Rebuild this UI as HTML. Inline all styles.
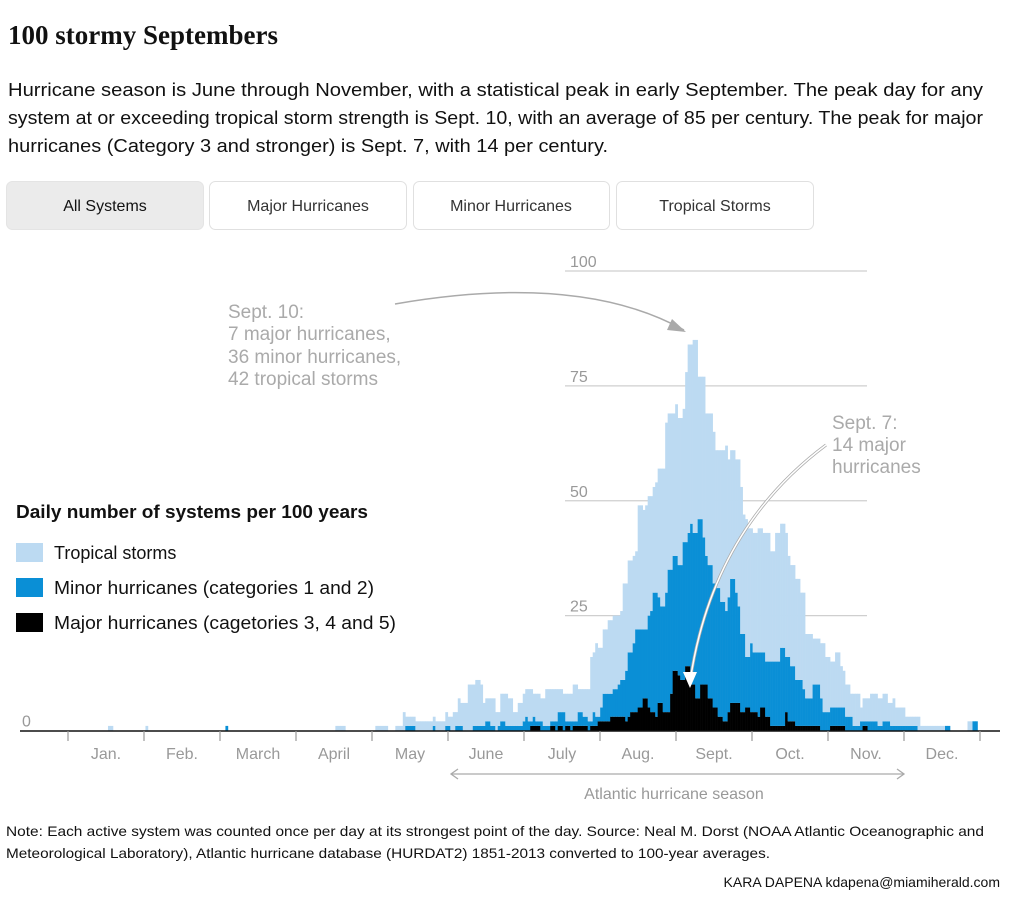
<!DOCTYPE html>
<html><head><meta charset="utf-8">
<style>
html,body{margin:0;padding:0;background:#fff;}
svg{display:block;font-family:"Liberation Sans","DejaVu Sans",sans-serif;}
</style></head>
<body>
<svg id="chart" width="1012" height="900" viewBox="0 0 1012 900" xmlns="http://www.w3.org/2000/svg">
<text x="8" y="44" font-family="Liberation Serif, serif" font-weight="bold" font-size="27" fill="#111">100 stormy Septembers</text>
<g font-size="18.5" fill="#111">
<text x="8" y="96" textLength="975" lengthAdjust="spacingAndGlyphs">Hurricane season is June through November, with a statistical peak in early September. The peak day for any</text>
<text x="8" y="124" textLength="975" lengthAdjust="spacingAndGlyphs">system at or exceeding tropical storm strength is Sept. 10, with an average of 85 per century. The peak for major</text>
<text x="8" y="152" textLength="600" lengthAdjust="spacingAndGlyphs">hurricanes (Category 3 and stronger) is Sept. 7, with 14 per century.</text>
</g>
<g font-size="16" text-anchor="middle">
<g><rect x="6.5" y="181.5" width="197" height="48" rx="6" fill="#ebebeb" stroke="#e4e4e4"/><text x="105" y="211" fill="#111">All Systems</text></g>
<g><rect x="209.5" y="181.5" width="197" height="48" rx="6" fill="#fff" stroke="#e0e0e0"/><text x="308" y="211" fill="#333">Major Hurricanes</text></g>
<g><rect x="413.5" y="181.5" width="196" height="48" rx="6" fill="#fff" stroke="#e0e0e0"/><text x="511" y="211" fill="#333">Minor Hurricanes</text></g>
<g><rect x="616.5" y="181.5" width="197" height="48" rx="6" fill="#fff" stroke="#e0e0e0"/><text x="715" y="211" fill="#333">Tropical Storms</text></g>
</g>
<g id="grid"></g>
<g id="bars"></g>
<g id="axis"></g>
<g>
<line x1="452" y1="774" x2="903" y2="774" stroke="#aaa" stroke-width="1.3"/>
<path d="M458,769 L451,774 L458,779" fill="none" stroke="#aaa" stroke-width="1.3"/>
<path d="M897,769 L904,774 L897,779" fill="none" stroke="#aaa" stroke-width="1.3"/>
<text x="674" y="799" text-anchor="middle" font-size="16" fill="#999">Atlantic hurricane season</text>
</g>
<g font-size="19" fill="#aaa">
<text x="228" y="318">Sept. 10:</text>
<text x="228" y="340">7 major hurricanes,</text>
<text x="228" y="363">36 minor hurricanes,</text>
<text x="228" y="385">42 tropical storms</text>
<path d="M395,304 Q580,272 684,330" fill="none" stroke="#aaa" stroke-width="1.5"/>
<path d="M672,319 L686,332 L667,330 Z" fill="#aaa"/>
</g>
<g font-size="19" fill="#aaa">
<text x="832" y="429">Sept. 7:</text>
<text x="832" y="451">14 major</text>
<text x="832" y="473">hurricanes</text>
<path d="M826,445 Q712,530 690,682" fill="none" stroke="#aaa" stroke-width="3"/>
<path d="M826,445 Q712,530 690,682" fill="none" stroke="#fff" stroke-width="1.5"/>
<path d="M683,672 L690,688 L697,672 Z" fill="#fff"/>
</g>
<g font-size="18" fill="#111">
<text x="16" y="518" font-weight="bold" textLength="352" lengthAdjust="spacingAndGlyphs">Daily number of systems per 100 years</text>
<g><rect x="16" y="543" width="27" height="19" fill="#bcdaf2"/><text x="54" y="559">Tropical storms</text></g>
<g><rect x="16" y="578" width="27" height="19" fill="#0a8fd6"/><text x="54" y="594" textLength="320" lengthAdjust="spacingAndGlyphs">Minor hurricanes (categories 1 and 2)</text></g>
<g><rect x="16" y="613" width="27" height="19" fill="#000"/><text x="54" y="629" textLength="342" lengthAdjust="spacingAndGlyphs">Major hurricanes (cagetories 3, 4 and 5)</text></g>
</g>
<g font-size="14" fill="#111">
<text x="6" y="836" textLength="978" lengthAdjust="spacingAndGlyphs">Note: Each active system was counted once per day at its strongest point of the day. Source: Neal M. Dorst (NOAA Atlantic Oceanographic and</text>
<text x="6" y="858" textLength="764" lengthAdjust="spacingAndGlyphs">Meteorological Laboratory), Atlantic hurricane database (HURDAT2) 1851-2013 converted to 100-year averages.</text>
</g>
<text x="1000" y="887" text-anchor="end" font-size="14" fill="#111">KARA DAPENA kdapena@miamiherald.com</text>
</svg>
<script>
const monthLabels = ["Jan.","Feb.","March","April","May","June","July","Aug.","Sept.","Oct.","Nov.","Dec."];
const yTicks = [0,25,50,75,100];
const tropical = [
0,0,0,0,0,0,0,0,0,0, 0,0,0,0,0,0,1,1,0,0, 0,0,0,0,0,0,0,0,0,0, 0,1,0,0,0,0,0,0,0,0,
0,0,0,0,0,0,0,0,0,0, 0,0,0,0,0,0,0,0,0,0, 0,0,0,0,0,0,0,0,0,0, 0,0,0,0,0,0,0,0,0,0,
0,0,0,0,0,0,0,0,0,0, 0,0,0,0,0,0,0,0,0,0, 0,0,0,0,0,0,0,1,1,1, 1,0,0,0,0,0,0,0,0,0,
0,0,0,1,1,1,1,1,0,0, 0,1,1,1,4,2,2,2,2,2, 2,2,2,2,2,2,2,2,2,2, 2,3,2,3,4,3,6,5,6,6,
10,10,9,10,10,9,5,5,5,6, 6,4,3,6,6,7,6,6,3,3, 5,5,6,6,7,7,5,6,6,5, 6,8,8,7,7,7,5,5,4,6,
6,6,8,8,5,5,6,6,7,14, 13,16,15,13,14,14,16,16,16,16, 15,15,21,19,20,20,19,17,27,27, 26,27,26,25,23,24,28,30,30,37,
34,34,31,33,32,32,29,37,41,39, 42,42,31,31,35,31,33,33,33,30, 30,33,33,36,30,28,28,29,32,32, 26,30,28,25,26,26,27,27,26,28,
28,24,24,28,28,27,27,27,22,22, 22,22,22,19,21,14,14,14,10,10, 10,12,15,12,12,10,10,12,12,9, 8,7,7,5,7,7,7,3,5,5,
5,6,6,6,6,6,6,6,4,5, 6,4,4,4,4,2,2,2,2,2, 3,1,1,1,1,1,1,1,1,1, 1,0,0,0,0,0,0,0,0,0, 2,2,0,0,0];
const minor = [
0,0,0,0,0,0,0,0,0,0, 0,0,0,0,0,0,0,0,0,0, 0,0,0,0,0,0,0,0,0,0, 0,0,0,0,0,0,0,0,0,0,
0,0,0,0,0,0,0,0,0,0, 0,0,0,0,0,0,0,0,0,0, 0,0,0,1,0,0,0,0,0,0, 0,0,0,0,0,0,0,0,0,0,
0,0,0,0,0,0,0,0,0,0, 0,0,0,0,0,0,0,0,0,0, 0,0,0,0,0,0,0,0,0,0, 0,0,0,0,0,0,0,0,0,0,
0,0,0,0,0,0,0,0,0,0, 0,0,0,0,0,1,1,1,1,0, 0,0,0,0,0,0,1,0,0,0, 0,1,1,0,0,1,1,1,0,0,
0,0,1,1,1,1,1,2,2,1, 1,0,1,2,2,1,1,1,1,1, 1,1,2,3,2,1,2,1,1,2, 1,1,1,1,1,2,3,3,4,1,
1,2,1,1,3,3,2,2,2,1, 3,2,1,3,6,6,6,5,6,6, 7,8,8,11,14,13,15,18,17,17, 15,15,20,22,26,27,23,21,23,26,
31,27,25,25,24,25,30,27,29,35, 33,36,39,36,32,28,29,29,27,26, 28,25,26,24,25,27,27,24,21,17, 17,11,11,15,13,13,14,12,12,12,
12,14,14,14,14,17,17,12,14,12, 12,10,10,10,8,6,6,6,9,9, 9,7,4,4,4,4,4,4,4,4, 4,3,3,3,1,1,1,2,1,1,
2,2,2,2,1,1,2,2,2,1, 1,1,1,1,1,1,1,1,1,1, 0,0,0,0,0,0,0,0,0,0, 0,1,1,0,0,0,0,0,0,0, 0,0,2,2,0];
const major = [
0,0,0,0,0,0,0,0,0,0, 0,0,0,0,0,0,0,0,0,0, 0,0,0,0,0,0,0,0,0,0, 0,0,0,0,0,0,0,0,0,0,
0,0,0,0,0,0,0,0,0,0, 0,0,0,0,0,0,0,0,0,0, 0,0,0,0,0,0,0,0,0,0, 0,0,0,0,0,0,0,0,0,0,
0,0,0,0,0,0,0,0,0,0, 0,0,0,0,0,0,0,0,0,0, 0,0,0,0,0,0,0,0,0,0, 0,0,0,0,0,0,0,0,0,0,
0,0,0,0,0,0,0,0,0,0, 0,0,0,0,0,0,0,0,0,0, 0,0,0,0,0,0,0,0,0,0, 0,0,0,0,0,0,0,0,0,0,
0,0,0,0,0,0,0,0,0,0, 0,0,0,0,0,0,0,0,0,0, 0,0,0,0,0,1,1,1,1,0, 0,0,0,1,1,0,1,1,0,1,
1,0,1,1,1,1,1,1,0,1, 1,1,2,2,2,2,2,3,3,3, 3,3,3,2,3,4,4,4,5,5, 7,7,5,4,4,3,6,6,4,4,
4,8,13,13,12,11,11,14,14,10, 10,7,7,10,10,10,7,7,5,5, 3,3,2,2,4,6,6,6,6,4, 4,5,5,4,4,4,3,5,5,3,
3,1,1,1,1,1,1,4,2,2, 2,1,1,1,1,1,1,1,1,1, 1,0,0,0,0,1,1,1,1,1, 1,0,0,0,0,0,0,0,1,1,
0,0,0,0,0,0,0,0,0,0, 0,0,0,0,0,0,0,0,0,0, 0,0,0,0,0,0,0,0,0,0, 0,0,0,0,0,0,0,0,0,0, 0,0,0,0,0];

const NS = "http://www.w3.org/2000/svg";
const X0 = 68, X1 = 980, Y0 = 730.5, PXU = 4.595;
function xScale(day){ return X0 + day * (X1 - X0) / 365; }
function monthX(i){ return X0 + i * (X1 - X0) / 12; }
function yScale(v){ return Y0 - v * PXU; }
function mk(tag, attrs, parent){ const e = document.createElementNS(NS, tag); for (const k in attrs) e.setAttribute(k, attrs[k]); parent.appendChild(e); return e; }

const grid = document.getElementById('grid');
yTicks.forEach(function(t){
  if (t > 0) {
    const ln = mk('line', {x1:565, x2:867, y1:yScale(t), y2:yScale(t), stroke:'#cfcfcf', 'stroke-width':1.3}, grid);
    
    
    const tx = mk('text', {x:570, y:yScale(t) - 4, 'font-size':16, fill:'#999'}, grid);
    tx.textContent = t;
    
    
  } else {
    const tx = mk('text', {x:22, y:yScale(t) - 4, 'font-size':16, fill:'#999'}, grid);
    tx.textContent = t;
    
    
  }
});

const bars = document.getElementById('bars');
const bw = (X1 - X0) / 365;
for (let d = 0; d < 365; d++) {
  const maj = major[d], mi = minor[d], tr = tropical[d];
  const x = xScale(d);
  const segs = [[0, maj, '#000', 'major'], [maj, maj + mi, '#0a8fd6', 'minor'], [maj + mi, maj + mi + tr, '#bcdaf2', 'tropical']];
  segs.forEach(function(s){
    if (s[1] > s[0]) {
      const r = mk('rect', {x:x, width:bw + 0.3, y:yScale(s[1]), height:yScale(s[0]) - yScale(s[1]), fill:s[2]}, bars);
      
      
    }
  });
}

const axis = document.getElementById('axis');
const al = mk('line', {x1:20, x2:1000, y1:731, y2:731, stroke:'#111', 'stroke-width':1.6}, axis);


for (let i = 0; i <= 12; i++) {
  const tk = mk('line', {x1:monthX(i), x2:monthX(i), y1:731, y2:741, stroke:'#999', 'stroke-width':1.2}, axis);
  
  
  if (i < 12) {
    const tx = mk('text', {x:(monthX(i) + monthX(i+1)) / 2, y:759, 'text-anchor':'middle', 'font-size':16, fill:'#999'}, axis);
    tx.textContent = monthLabels[i];
    
    
  }
}
</script>
</body></html>
